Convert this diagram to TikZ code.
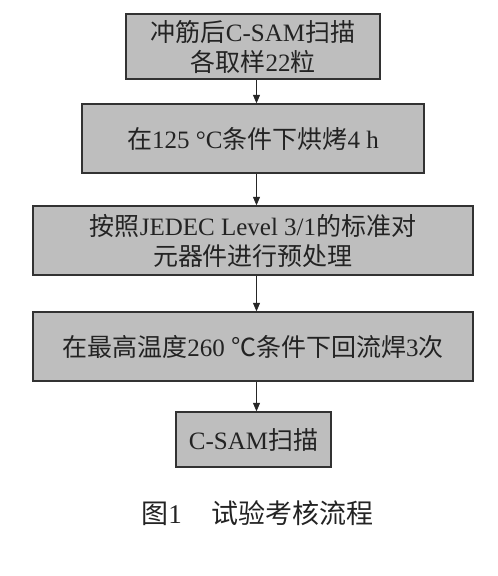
\documentclass[tikz,border=0pt]{standalone}
\usepackage{fontspec}
\setmainfont{Liberation Serif}
\newfontfamily\cjk{Noto Sans CJK SC}
\usetikzlibrary{arrows.meta}
\definecolor{boxfill}{RGB}{190,190,190}
\definecolor{boxline}{RGB}{50,50,50}
\definecolor{txt}{RGB}{35,35,35}
\tikzset{
  stepbox/.style={draw=boxline, line width=1.3pt, fill=boxfill, inner sep=0pt,
    align=center, text=txt, font=\fontsize{25}{30}\selectfont},
  arr/.style={draw=black!85, line width=0.9pt, -{Triangle[width=7pt,length=8.5pt]}},
}
\begin{document}
\begin{tikzpicture}[x=1pt,y=-1pt]
\useasboundingbox (0,0) rectangle (498,576);
\node[stepbox, minimum width=254pt, minimum height=65pt] (b1) at (253,46.5)
  {{\cjk 冲筋后}C-SAM{\cjk 扫描}\\{\cjk 各取样}22{\cjk 粒}};
\node[stepbox, minimum width=342pt, minimum height=69pt] (b2) at (253,138.5)
  {{\cjk 在}125 °C{\cjk 条件下烘烤}4 h};
\node[stepbox, minimum width=440pt, minimum height=69pt] (b3) at (253,240.5)
  {{\cjk 按照}JEDEC Level 3/1{\cjk 的标准对}\\{\cjk 元器件进行预处理}};
\node[stepbox, minimum width=440pt, minimum height=69pt] (b4) at (253,346.5)
  {{\cjk 在最高温度}260 {\cjk ℃条件下回流焊}3{\cjk 次}};
\node[stepbox, minimum width=155pt, minimum height=55pt] (b5) at (253.5,439.5)
  {C-SAM{\cjk 扫描}};
\node[text=txt, font=\fontsize{27}{32}\selectfont, inner sep=0pt] (cap) at (257.5,513)
  {{\cjk 图}1\hspace{30pt}{\cjk 试验考核流程}};
\draw[arr] ([xshift=3.5pt]b1.south) -- ([xshift=3.5pt]b2.north);
\draw[arr] ([xshift=3.5pt]b2.south) -- ([xshift=3.5pt]b3.north);
\draw[arr] ([xshift=3.5pt]b3.south) -- ([xshift=3.5pt]b4.north);
\draw[arr] ([xshift=3.5pt]b4.south) -- ([xshift=3pt]b5.north);
\end{tikzpicture}
\end{document}
